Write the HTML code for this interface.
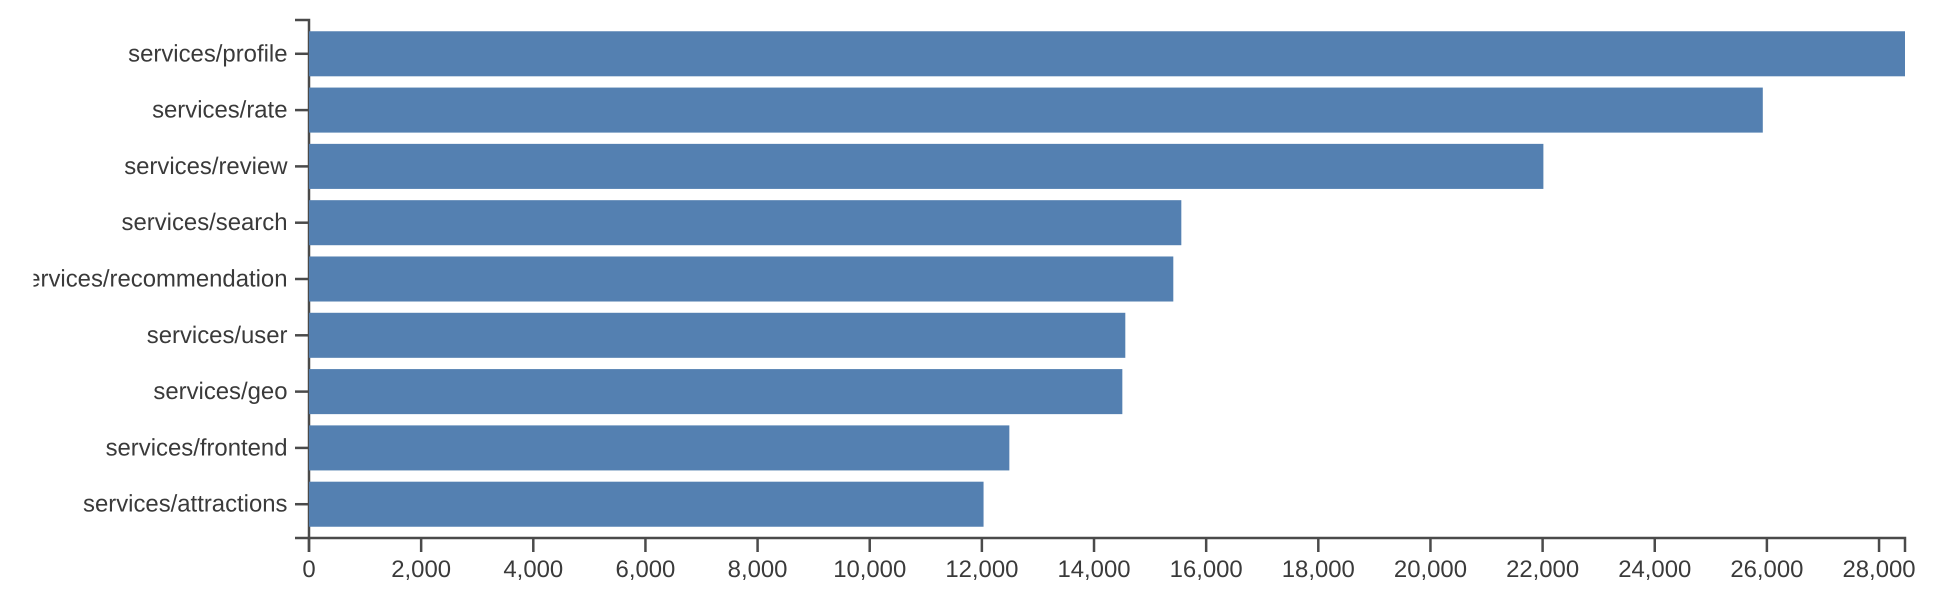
<!DOCTYPE html>
<html lang="en">
<head>
<meta charset="utf-8">
<title>Services bar chart</title>
<style>
  html, body { margin: 0; padding: 0; background: #fff; }
  body { width: 1938px; height: 598px; overflow: hidden; }
  svg { display: block; }
  text { font-family: "Liberation Sans", Arial, sans-serif; font-size: 23.9px; fill: #3a3a3a; text-rendering: geometricPrecision; }
  .axis-line { stroke: #4a4a4a; stroke-width: 2.5; fill: none; }
  .bar { fill: #5480b1; }
</style>
</head>
<body>
<svg id="chart" width="1938" height="598" viewBox="0 0 1938 598" xmlns="http://www.w3.org/2000/svg">
  <defs>
    <clipPath id="label-clip"><rect x="33.5" y="0" width="1904" height="598"></rect></clipPath>
  </defs>
  <g id="axes"></g>
  <g id="bars"></g>
  <g id="y-labels" clip-path="url(#label-clip)"></g>
  <g id="x-labels"></g>
</svg>
<script>
const categories = ["services/profile", "services/rate", "services/review", "services/search", "services/recommendation", "services/user", "services/geo", "services/frontend", "services/attractions"];
const seriesValues = [28463, 25927, 22014, 15557, 15414, 14558, 14505, 12490, 12030];
const xTickValues = [0, 2000, 4000, 6000, 8000, 10000, 12000, 14000, 16000, 18000, 20000, 22000, 24000, 26000, 28000];

const NS = "http://www.w3.org/2000/svg";
const plotLeft = 309, plotRight = 1905, plotTop = 20, plotBottom = 538;
const tickLen = 14, bandPadding = 0.2;
const domainMax = Math.max(...seriesValues);

function xScale(v) {
  return plotLeft + (v / domainMax) * (plotRight - plotLeft);
}
const bandStep = (plotBottom - plotTop) / (categories.length + bandPadding);
function yBandTop(i) {
  return plotTop + bandPadding * bandStep + i * bandStep;
}
const bandHeight = bandStep * (1 - bandPadding);
function yCenter(i) {
  return yBandTop(i) + bandHeight / 2;
}
function make(tag) {
  return document.createElementNS(NS, tag);
}

const axes = document.getElementById("axes");
const bars = document.getElementById("bars");
const yLabels = document.getElementById("y-labels");
const xLabels = document.getElementById("x-labels");

const yDomain = make("path");


yDomain.setAttribute("class", "axis-line");
yDomain.setAttribute("d", `M${plotLeft - tickLen},${plotTop}H${plotLeft}V${plotBottom}H${plotLeft - tickLen}`);
axes.appendChild(yDomain);

const xDomain = make("path");


xDomain.setAttribute("class", "axis-line");
xDomain.setAttribute("d", `M${plotLeft},${plotBottom + tickLen}V${plotBottom}H${plotRight}V${plotBottom + tickLen}`);
axes.appendChild(xDomain);

categories.forEach(function (name, i) {
  const tick = make("line");
  
  
  tick.setAttribute("class", "axis-line");
  tick.setAttribute("x1", plotLeft - tickLen);
  tick.setAttribute("x2", plotLeft);
  tick.setAttribute("y1", yCenter(i));
  tick.setAttribute("y2", yCenter(i));
  axes.appendChild(tick);

  const rect = make("rect");
  
  
  rect.setAttribute("class", "bar");
  rect.setAttribute("x", plotLeft);
  rect.setAttribute("y", yBandTop(i));
  rect.setAttribute("width", xScale(seriesValues[i]) - plotLeft);
  rect.setAttribute("height", bandHeight);
  bars.appendChild(rect);

  const label = make("text");
  
  
  label.setAttribute("x", plotLeft - 21.5);
  label.setAttribute("y", yCenter(i) + 7.5);
  label.setAttribute("text-anchor", "end");
  label.textContent = name;
  yLabels.appendChild(label);
});

xTickValues.forEach(function (v) {
  const tick = make("line");
  
  
  tick.setAttribute("class", "axis-line");
  tick.setAttribute("x1", xScale(v));
  tick.setAttribute("x2", xScale(v));
  tick.setAttribute("y1", plotBottom);
  tick.setAttribute("y2", plotBottom + tickLen);
  axes.appendChild(tick);

  const label = make("text");
  
  
  label.setAttribute("x", xScale(v));
  label.setAttribute("y", plotBottom + 39);
  label.setAttribute("text-anchor", "middle");
  label.textContent = v.toLocaleString("en-US");
  xLabels.appendChild(label);
});
</script>
</body>
</html>
